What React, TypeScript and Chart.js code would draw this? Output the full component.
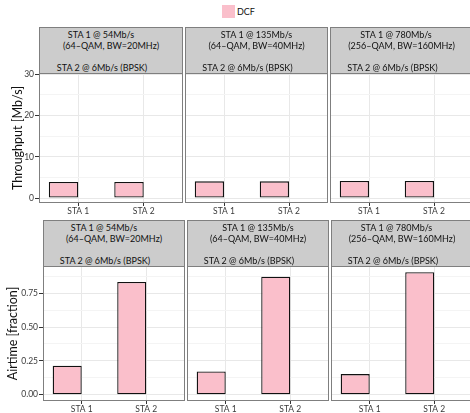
import React, { useEffect, useRef } from "react";
import { Chart, registerables } from "chart.js";

Chart.register(...registerables);

// ---------- data ----------
const categories = ["STA 1", "STA 2"];
const seriesName = "DCF";

const stripRate = ["STA 1 @ 54Mb/s", "STA 1 @ 135Mb/s", "STA 1 @ 780Mb/s"];
const stripMode = ["(64–QAM, BW=20MHz)", "(64–QAM, BW=40MHz)", "(256–QAM, BW=160MHz)"];
const stripSta2 = ["STA 2 @ 6Mb/s (BPSK)", "STA 2 @ 6Mb/s (BPSK)", "STA 2 @ 6Mb/s (BPSK)"];

const throughputSta1 = [3.9, 4.05, 4.15];
const throughputSta2 = [3.9, 4.05, 4.15];
const airtimeSta1 = [0.214, 0.172, 0.152];
const airtimeSta2 = [0.833, 0.872, 0.905];

const throughputMajor = [0, 10, 20, 30];
const throughputMajorLabels = ["0", "10", "20", "30"];
const throughputMinor = [5, 15, 25];
const airtimeMajor = [0, 0.25, 0.5, 0.75];
const airtimeMajorLabels = ["0.00", "0.25", "0.50", "0.75"];
const airtimeMinor = [0.125, 0.375, 0.625, 0.875];

const throughputTitle = "Throughput [Mb/s]";
const airtimeTitle = "Airtime [fraction]";

// ---------- style ----------
const FONT = "Lato";
const PINK = "#FABFCB";
const BAR_BORDER = "#111111";
const PANEL_BORDER = "#7F7F7F";
const STRIP_BG = "#CCCCCC";
const GRID_MAJOR = "#E8E8E8";
const GRID_MINOR = "#F4F4F4";
const TICK_TEXT = "#3A3A3A";
const TICK_MARK = "#333333";
const TOP_PAD = 8;

Chart.defaults.font.family = FONT;

const panelBorder = {
  id: "panelBorder",
  afterDatasetsDraw(chart: any) {
    const { ctx, chartArea: a } = chart;
    ctx.save();
    ctx.strokeStyle = PANEL_BORDER;
    ctx.lineWidth = 1;
    ctx.strokeRect(a.left + 0.5, a.top + 0.5, a.right - a.left - 1, a.bottom - a.top - 1);
    ctx.restore();
  },
};

type PanelProps = {
  left: number;
  top: number;
  width: number;
  plotHeight: number;
  xAxisHeight: number;
  yAxisWidth: number;
  showY: boolean;
  values: number[];
  yMin: number;
  yMax: number;
  majors: number[];
  majorLabels: string[];
  minors: number[];
  title: string;
  titlePad: number;
};

function Panel(p: PanelProps) {
  const ref = useRef<HTMLCanvasElement>(null);
  const height = TOP_PAD + p.plotHeight + p.xAxisHeight;
  useEffect(() => {
    const allTicks = [...p.majors, ...p.minors].sort((a, b) => a - b);
    const chart = new Chart(ref.current as HTMLCanvasElement, {
      type: "bar",
      data: {
        datasets: [
          {
            label: seriesName,
            data: p.values.map((v, i) => ({ x: i + 1, y: v })),
            backgroundColor: PINK,
            borderColor: BAR_BORDER,
            borderWidth: 1.3,
            borderSkipped: false,
            categoryPercentage: 0.9,
            barPercentage: 1,
          },
          {
            label: "",
            data: [],
            backgroundColor: "rgba(0,0,0,0)",
            borderWidth: 0,
            categoryPercentage: 0.9,
            barPercentage: 1,
          },
        ],
      } as any,
      options: {
        responsive: false,
        animation: false,
        devicePixelRatio: 1,
        layout: { padding: { top: TOP_PAD, left: 0, right: 0, bottom: 0 } },
        plugins: { legend: { display: false }, tooltip: { enabled: false }, title: { display: false } },
        scales: {
          x: {
            type: "linear",
            min: 0.4,
            max: 2.6,
            offset: false,
            afterBuildTicks: (s: any) => {
              s.ticks = categories.map((_, i) => ({ value: i + 1 }));
            },
            afterFit: (s: any) => {
              s.height = p.xAxisHeight;
              s.paddingLeft = 0;
              s.paddingRight = 0;
            },
            ticks: {
              autoSkip: false,
              maxRotation: 0,
              padding: 0,
              color: TICK_TEXT,
              font: { size: 8.5, family: FONT },
              callback: (v: any) => categories[Math.round(v) - 1] ?? "",
            },
            grid: {
              offset: false,
              color: GRID_MAJOR,
              lineWidth: 1,
              drawTicks: true,
              tickLength: 3,
              tickColor: TICK_MARK,
            },
            border: { display: false },
          },
          y: {
            type: "linear",
            min: p.yMin,
            max: p.yMax,
            afterBuildTicks: (s: any) => {
              s.ticks = allTicks.map((v) => ({ value: v }));
            },
            afterFit: (s: any) => {
              s.width = p.yAxisWidth;
              s.paddingTop = 0;
              s.paddingBottom = 0;
            },
            ticks: {
              display: p.showY,
              autoSkip: false,
              padding: 1,
              color: TICK_TEXT,
              font: { size: 8.5, family: FONT },
              callback: (v: any) => {
                const idx = p.majors.indexOf(v);
                return idx >= 0 ? p.majorLabels[idx] : "";
              },
            },
            grid: {
              color: (ctx: any) => (p.minors.includes(ctx.tick?.value) ? GRID_MINOR : GRID_MAJOR),
              lineWidth: 1,
              drawTicks: p.showY,
              tickLength: 4,
              tickColor: (ctx: any) => (p.minors.includes(ctx.tick?.value) ? "rgba(0,0,0,0)" : TICK_MARK),
            },
            border: { display: false },
            title: {
              display: p.showY,
              text: p.title,
              color: "#111111",
              font: { size: 12.5, family: FONT },
              padding: { top: p.titlePad, bottom: 0 },
            },
          },
        },
      } as any,
      plugins: [panelBorder],
    });
    return () => chart.destroy();
  }, []);
  return (
    <canvas
      ref={ref}
      width={p.width}
      height={height}
      style={{ position: "absolute", left: p.left, top: p.top - TOP_PAD, width: p.width, height }}
    />
  );
}

function Strip(props: { left: number; top: number; width: number; height: number; lines: string[]; shifts: number[] }) {
  return (
    <div
      style={{
        position: "absolute",
        left: props.left,
        top: props.top,
        width: props.width,
        height: props.height,
        boxSizing: "border-box",
        border: `1px solid ${PANEL_BORDER}`,
        background: STRIP_BG,
        color: "#111111",
        fontFamily: FONT,
        fontSize: 9,
        lineHeight: "11px",
        paddingTop: 1,
      }}
    >
      {props.lines.map((t, i) => (
        <div
          key={i}
          style={{ textAlign: "center", whiteSpace: "pre", height: 11, position: "relative", left: props.shifts[i] }}
        >
          {t}
        </div>
      ))}
    </div>
  );
}

export default function App() {
  const topCols = [
    { left: 0, width: 183, yw: 39 },
    { left: 185, width: 143, yw: 0 },
    { left: 330, width: 143, yw: 0 },
  ];
  const botCols = [
    { left: 0, width: 185, yw: 43 },
    { left: 187, width: 142, yw: 0 },
    { left: 331, width: 142, yw: 0 },
  ];
  const shifts = [
    [-10, 0, 0, -9],
    [0, 0, 0, -9],
    [-5.5, 0, 0, -9],
  ];
  return (
    <div
      style={{
        position: "absolute",
        left: 0,
        top: 0,
        width: 470,
        height: 413,
        overflow: "hidden",
        background: "#FFFFFF",
        fontFamily: FONT,
      }}
    >
      {/* legend */}
      <div style={{ position: "absolute", left: 222, top: 5, width: 13, height: 13, background: PINK }} />
      <div
        style={{ position: "absolute", left: 237, top: 5, height: 13, lineHeight: "13px", fontSize: 9, color: "#111111" }}
      >
        {seriesName}
      </div>

      {topCols.map((c, i) => (
        <React.Fragment key={"t" + i}>
          <Strip
            left={c.left + c.yw}
            top={27}
            width={c.width - c.yw}
            height={47}
            lines={[stripRate[i], stripMode[i], "", stripSta2[i]]}
            shifts={shifts[i]}
          />
          <Panel
            left={c.left}
            top={73}
            width={c.width}
            plotHeight={130}
            xAxisHeight={15}
            yAxisWidth={c.yw}
            showY={i === 0}
            values={[throughputSta1[i], throughputSta2[i]]}
            yMin={-1.2}
            yMax={30.3}
            majors={throughputMajor}
            majorLabels={throughputMajorLabels}
            minors={throughputMinor}
            title={throughputTitle}
            titlePad={10.5}
          />
        </React.Fragment>
      ))}

      {botCols.map((c, i) => (
        <React.Fragment key={"b" + i}>
          <Strip
            left={c.left + c.yw}
            top={220}
            width={c.width - c.yw}
            height={47}
            lines={[stripRate[i], stripMode[i], "", stripSta2[i]]}
            shifts={shifts[i]}
          />
          <Panel
            left={c.left}
            top={266}
            width={c.width}
            plotHeight={135}
            xAxisHeight={14}
            yAxisWidth={c.yw}
            showY={i === 0}
            values={[airtimeSta1[i], airtimeSta2[i]]}
            yMin={-0.0465}
            yMax={0.9505}
            majors={airtimeMajor}
            majorLabels={airtimeMajorLabels}
            minors={airtimeMinor}
            title={airtimeTitle}
            titlePad={5.5}
          />
        </React.Fragment>
      ))}
    </div>
  );
}
